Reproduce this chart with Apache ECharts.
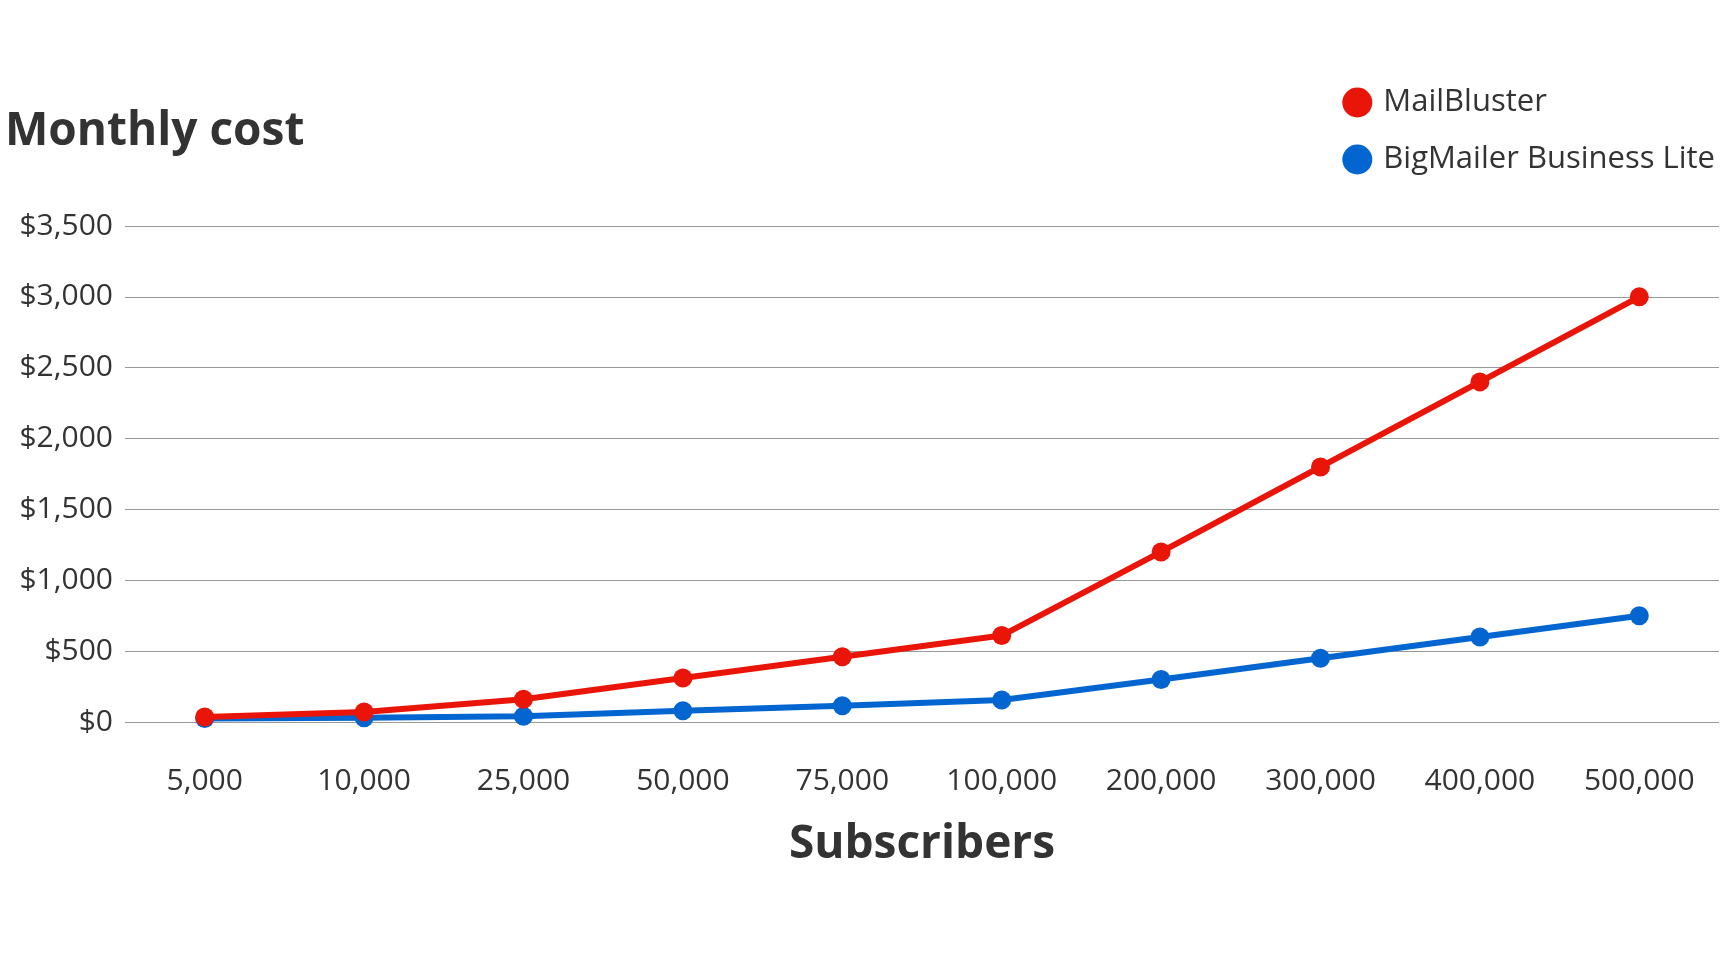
<!DOCTYPE html>
<html><head><meta charset="utf-8">
<script src="https://cdn.jsdelivr.net/npm/echarts@6/dist/echarts.min.js"></script>
<style>html,body{margin:0;padding:0;background:#fff}#c{width:1720px;height:974px}</style>
</head><body><div id="c"></div>
<script>
const categories = ['5,000','10,000','25,000','50,000','75,000','100,000','200,000','300,000','400,000','500,000'];
const mailBluster = [35, 70, 160, 310, 460, 610, 1200, 1800, 2400, 3000];
const bigMailer = [25, 30, 40, 80, 115, 155, 300, 450, 600, 750];
const F = '"Open Sans", "Noto Sans", sans-serif';
const chart = echarts.init(document.getElementById('c'));
chart.setOption({
  animation: false,
  title: {text: 'Monthly cost', left: 0, top: 104, textStyle: {fontFamily: F, fontSize: 46, fontWeight: 'bold', color: '#333'}},
  legend: {orient: 'vertical', right: 0, top: 82, itemGap: 26, itemWidth: 30, itemHeight: 30,
    textStyle: {fontFamily: F, fontSize: 31, color: '#333', padding: [0,0,0,6]},
    data: [{name: 'MailBluster', icon: 'circle'}, {name: 'BigMailer Business Lite', icon: 'circle'}]},
  grid: {left: 125, right: 1, top: 226, bottom: 252},
  xAxis: {type: 'category', data: categories, boundaryGap: true,
    name: 'Subscribers', nameLocation: 'middle', nameGap: 100,
    nameTextStyle: {fontFamily: F, fontSize: 46, fontWeight: 'bold', color: '#333'},
    axisLine: {show: false}, axisTick: {show: false},
    axisLabel: {fontFamily: F, fontSize: 30, color: '#333', margin: 44}},
  yAxis: {type: 'value', min: 0, max: 3500, interval: 500,
    axisLabel: {formatter: '${value}', fontFamily: F, fontSize: 30, color: '#333', margin: 12},
    splitLine: {lineStyle: {color: '#999', width: 1.2}}},
  series: [
    {name: 'BigMailer Business Lite', type: 'line', data: bigMailer, symbol: 'circle', symbolSize: 19,
      itemStyle: {color: '#0366d0'}, lineStyle: {width: 6, color: '#0366d0'}, z: 2},
    {name: 'MailBluster', type: 'line', data: mailBluster, symbol: 'circle', symbolSize: 19,
      itemStyle: {color: '#ea1509'}, lineStyle: {width: 6, color: '#ea1509'}, z: 3}
  ]
});
</script></body></html>
